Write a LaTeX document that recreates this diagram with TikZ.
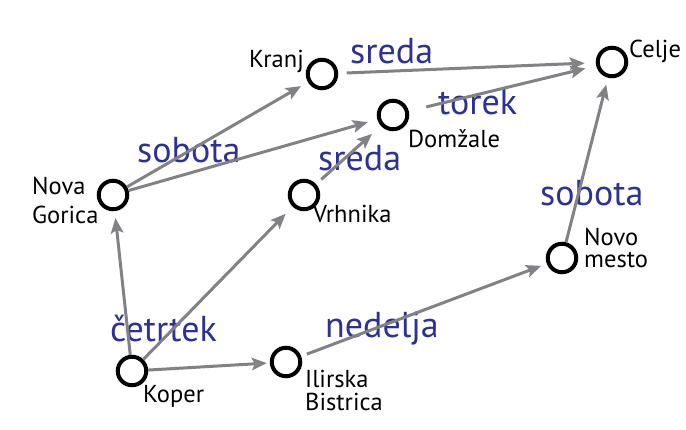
\documentclass[tikz,border=0pt]{standalone}
\usepackage{fontspec}
\setmainfont{PT Sans}
\usetikzlibrary{arrows.meta}
\definecolor{lblblue}{HTML}{2E3192}
\definecolor{edgegray}{HTML}{808285}
\begin{document}
\begin{tikzpicture}[x=1pt,y=-1pt,
  city/.style={circle,draw=black,line width=4pt,minimum size=28.5pt,inner sep=0pt},
  route/.style={draw=edgegray,line width=3pt,-{Stealth[length=15pt,width=12.5pt,inset=3pt]}},
  daylabel/.style={text=lblblue,font=\fontsize{36}{36}\selectfont,inner sep=0pt,anchor=base west},
  citylabel/.style={font=\fontsize{24.5}{22}\selectfont,inner sep=0pt,align=left,anchor=base west}]
\useasboundingbox (0,0) rectangle (686,430);
% day labels
\node[daylabel] (d1) at (350,64) {sreda};
\node[daylabel] (d2) at (438,115) {torek};
\node[daylabel] (d3) at (318,171) {sreda};
\node[daylabel] (d4) at (137,163) {sobota};
\node[daylabel] (d5) at (540,206) {sobota};
\node[daylabel] (d6) at (110,342) {četrtek};
\node[daylabel] (d7) at (325,338) {nedelja};
% city names
\node[citylabel,anchor=base east] (t1) at (304,68) {Kranj};
\node[citylabel] (t2) at (629,58) {Celje};
\node[citylabel] (t3) at (408,148) {Domžale};
\node[citylabel] (t4) at (32,224) {Nova\\[7pt]Gorica};
\node[citylabel] (t5) at (313,223) {Vrhnika};
\node[citylabel] (t6) at (143,403) {Koper};
\node[citylabel] (t7) at (305,410) {Ilirska\\[1pt]Bistrica};
\node[citylabel] (t8) at (584,268) {Novo\\mesto};
% cities
\node[city] (kranj) at (322,74) {};
\node[city] (celje) at (612,62) {};
\node[city] (domzale) at (393,115) {};
\node[city] (novagorica) at (113,195) {};
\node[city] (vrhnika) at (304,195) {};
\node[city] (koper) at (132,371) {};
\node[city] (ilirska) at (286,362) {};
\node[city] (novomesto) at (562,258) {};
% routes
\draw[route,shorten >=7pt] (koper) -- (novagorica);
\draw[route,shorten >=10pt] (koper) -- (vrhnika);
\draw[route,shorten >=3pt] (koper) -- (ilirska);
\draw[route,shorten >=8pt] (novagorica) -- (kranj);
\draw[route,shorten >=10pt] (novagorica) -- (domzale);
\draw[route,shorten <=7pt,shorten >=12pt] (vrhnika) -- (domzale);
\draw[route,shorten <=8.5pt,shorten >=11pt] (kranj) -- (celje);
\draw[route,shorten <=18pt,shorten >=11pt] (domzale) -- (celje);
\draw[route,shorten <=6pt,shorten >=6pt] (ilirska) -- (novomesto);
\draw[route,shorten >=7pt] (novomesto) -- (celje);
\end{tikzpicture}
\end{document}
